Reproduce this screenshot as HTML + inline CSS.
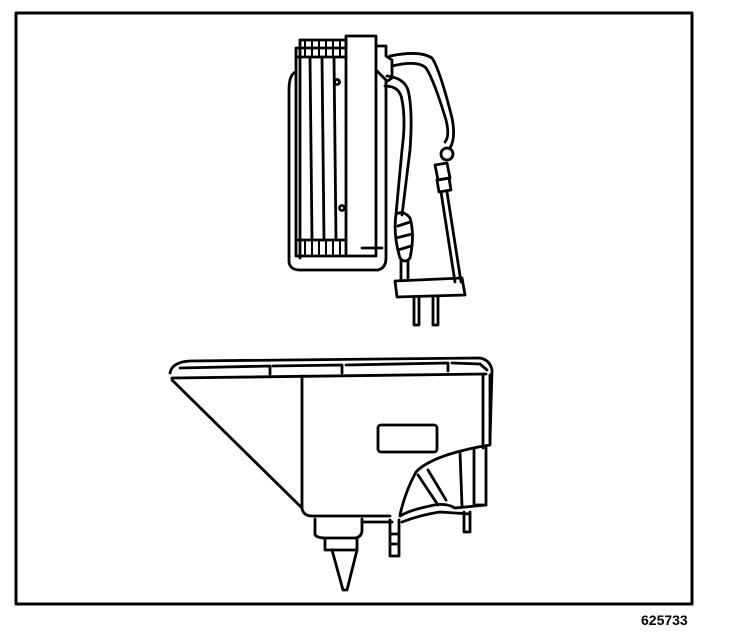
<!DOCTYPE html>
<html><head><style>
html,body{margin:0;padding:0;background:#fff;width:736px;height:642px;overflow:hidden}
.lbl{position:absolute;left:641px;top:612px;font:bold 14px "Liberation Sans",sans-serif;color:#000}
</style></head><body>
<svg width="736" height="642" style="position:absolute;left:0;top:0" fill="none" stroke="#000" stroke-width="2.8" stroke-linejoin="round" stroke-linecap="round">
<rect x="16" y="13" width="676" height="591" stroke-width="3"/>
<!-- heater body -->
<path d="M296 72 Q289 74 289 90 L289 262 Q290 270 300 270 L378 270 Q386 268 386 258 L386 80 L376 70"/>
<path d="M296 48 L296 256 L376 256 L376 36 L346 36 L346 48 Z"/>
<path d="M300 40 L346 40 L346 256"/>
<path d="M300 40 L300 258"/>
<line x1="310" y1="57" x2="312" y2="240"/>
<line x1="322" y1="57" x2="324" y2="240"/>
<line x1="334" y1="57" x2="336" y2="240"/>
<path d="M298 57 L346 57 M298 240 L346 240"/>
<g stroke-width="2">
<line x1="305" y1="40" x2="305" y2="57"/><line x1="312" y1="40" x2="312" y2="57"/><line x1="319" y1="40" x2="319" y2="57"/><line x1="326" y1="40" x2="326" y2="57"/><line x1="333" y1="40" x2="333" y2="57"/><line x1="340" y1="40" x2="340" y2="57"/>
<line x1="305" y1="240" x2="305" y2="254"/><line x1="312" y1="240" x2="312" y2="254"/><line x1="319" y1="240" x2="319" y2="254"/><line x1="326" y1="240" x2="326" y2="254"/><line x1="333" y1="240" x2="333" y2="254"/><line x1="340" y1="240" x2="340" y2="254"/>
</g>
<circle cx="337" cy="82" r="2.5"/><circle cx="342" cy="208" r="2.5"/>
<line x1="362" y1="248" x2="382" y2="248"/>
<path d="M376 46 L386 46 L386 56 L392 60 L392 78 L386 82"/>
<!-- cord 1 -->
<path d="M390 56 Q420 50 432 58 Q440 70 452 118 Q456 138 450 148"/>
<path d="M392 66 Q418 60 426 68 Q434 80 446 120 Q450 136 445 142"/>
<circle cx="447" cy="154" r="6"/>
<path d="M435 165 L447 163 L450 178 L438 180 Z"/>
<path d="M437 180 L449 178 L451 190 L439 192 Z"/>
<path d="M441 192 L455 282 M447 192 L461 282"/>
<!-- cord 2 -->
<path d="M387 76 Q404 78 408 90 Q413 110 410 150 L402 215"/>
<path d="M385 86 Q400 86 402 100 Q406 120 402 150 L396 214"/>
<path d="M396 214 Q404 210 410 218 Q415 235 410 258 Q405 264 400 258 Q393 235 396 214 Z"/>
<path d="M398 226 L410 222 M396 238 L412 234 M398 250 L411 246"/>
<path d="M401 260 L401 280 M408 260 L408 280"/>
<!-- plug -->
<path d="M395 281 L462 278 L465 295 L397 297 Z"/>
<path d="M414 297 L414 325 L419 325 L419 297 M433 297 L433 325 L438 325 L438 297"/>
<!-- lower device -->
<path d="M170 373 Q172 362 190 361 L480 358 Q490 360 492 370 L490 440"/>
<path d="M172 378 L486 374"/>
<path d="M180 368 L270 366 L270 374 M273 366 L342 365 L342 373 M346 365 L448 363 L448 371 M452 363 L480 364 L487 370"/>
<path d="M172 380 L302 508"/>
<path d="M302 376 L302 508 Q303 516 312 516 L390 516"/>
<rect x="378" y="425" width="59" height="27" rx="3"/>
<path d="M490 375 L490 445 Q470 448 450 454 Q425 462 416 472 Q405 492 400 515"/>
<path d="M483 375 L483 448 M460 452 L462 506 M474 448 L474 505 L486 505 L486 448"/>
<path d="M418 475 L438 505 M428 470 L446 500"/>
<path d="M400 516 Q410 510 430 506 Q445 502 455 508 L486 505"/>
<path d="M402 522 Q420 515 440 512 L470 514"/>
<!-- nozzle -->
<path d="M315 519 L315 535 Q318 538 325 538 L355 538 Q362 537 362 530 L362 519"/>
<path d="M362 522 L392 522"/>
<path d="M325 538 L325 550 L357 550 L357 538"/>
<path d="M332 550 L343 590 L347 590 L357 550"/>
<path d="M390 520 L390 556 L399 556 L399 520"/>
<path d="M391 534 L398 534 M391 544 L398 544"/>
<path d="M464 512 L464 532 L470 532 L470 512"/>
</svg>
<div class="lbl">625733</div>
</body></html>
